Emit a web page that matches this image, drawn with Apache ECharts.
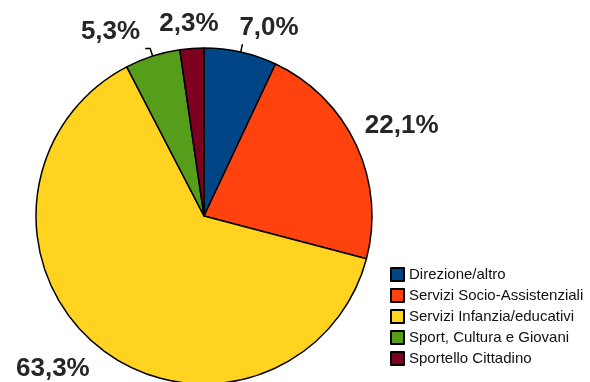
<!DOCTYPE html>
<html>
<head>
<meta charset="utf-8">
<script src="https://cdn.jsdelivr.net/npm/echarts@6/dist/echarts.min.js"></script>
<style>
  html, body { margin: 0; padding: 0; background: #fff; }
  #chart { width: 590px; height: 382px; }
</style>
</head>
<body>
<div id="chart"></div>
<script>
// Distribuzione per area (percentuali)
const categories = [
  'Direzione/altro',
  'Servizi Socio-Assistenziali',
  'Servizi Infanzia/educativi',
  'Sport, Cultura e Giovani',
  'Sportello Cittadino'
];
const values = [7.0, 22.1, 63.3, 5.3, 2.3];
const colors = ['#004586', '#ff420e', '#ffd320', '#579d1c', '#7e0021'];

// Per-slice leader line settings and label nudges
const lineShow = [true, false, false, true, false];
const lineLen = [8, 4, 10, 8, 5];
const lineLen2 = [0, 0, 0, 5, 0];
const labelDx = [-8, 0, 2, 0, 32];
const labelDy = [-16, -17, 14, -17, -20];

const chart = echarts.init(document.getElementById('chart'), null, { renderer: 'canvas' });

chart.setOption({
  animation: false,
  legend: {
    orient: 'vertical',
    left: 390,
    top: 267,
    padding: 0,
    itemWidth: 13,
    itemHeight: 13,
    itemGap: 6,
    icon: 'rect',
    itemStyle: { borderColor: '#000', borderWidth: 2 },
    textStyle: { fontFamily: 'Liberation Sans', fontSize: 15, color: '#111' },
    data: categories
  },
  series: [{
    type: 'pie',
    center: [204, 216],
    radius: 168,
    startAngle: 90,
    clockwise: true,
    avoidLabelOverlap: false,
    label: {
      show: true,
      position: 'outside',
      fontFamily: 'Liberation Sans',
      fontWeight: 'bold',
      fontSize: 26,
      color: '#262626',
      formatter: p => p.value.toFixed(1).replace('.', ',') + '%'
    },
    labelLine: { lineStyle: { color: '#000', width: 1.5 } },
    labelLayout: p => ({ dx: labelDx[p.dataIndex], dy: labelDy[p.dataIndex] }),
    itemStyle: { borderColor: '#000', borderWidth: 1.5 },
    emphasis: { disabled: true },
    data: categories.map((c, i) => ({
      name: c,
      value: values[i],
      itemStyle: { color: colors[i] },
      labelLine: { show: lineShow[i], length: lineLen[i], length2: lineLen2[i] }
    }))
  }]
});
</script>
</body>
</html>
